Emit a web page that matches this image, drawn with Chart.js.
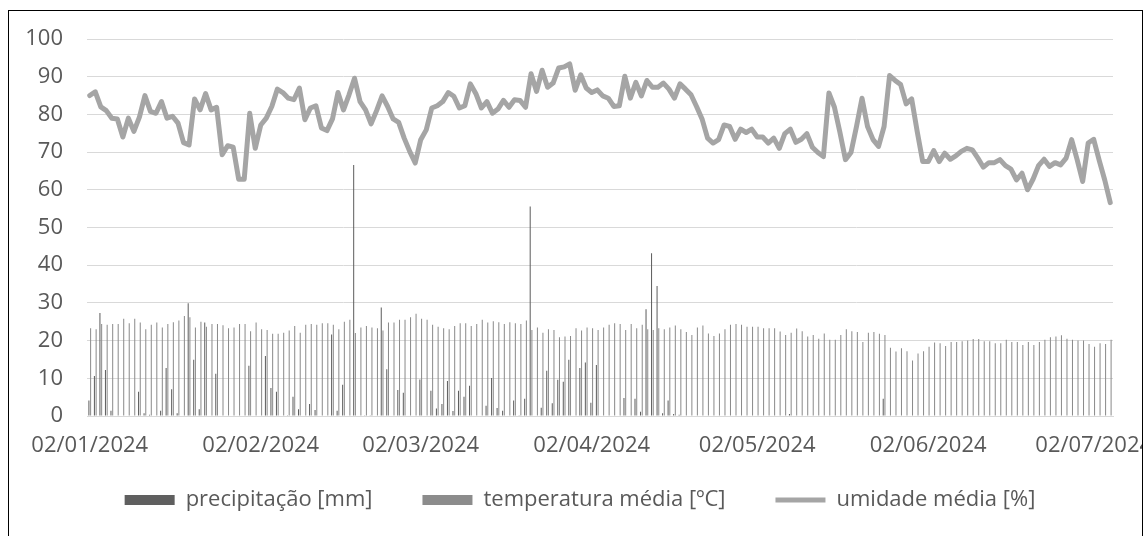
<!DOCTYPE html>
<html>
<head>
<meta charset="utf-8">
<script src="https://cdn.jsdelivr.net/npm/chart.js@4.4.1/dist/chart.umd.min.js"></script>
<style>
  html, body { margin: 0; padding: 0; background: #fff; }
  #wrap { width: 1146px; height: 536px; position: relative; }
</style>
</head>
<body>
<div id="wrap"><canvas id="grafico"></canvas></div>
<script>
// série diária a partir de 02/01/2024
const dataInicio = Date.UTC(2024, 0, 2);

// rótulos mostrados no eixo x (um por mês)
const rotulosMes = ['02/01/2024', '02/02/2024', '02/03/2024', '02/04/2024', '02/05/2024', '02/06/2024', '02/07/2024'];

const precipitacao = [
  4.1, 10.6, 27.3, 12.2, 1.4, 0, 0, 0, 0, 6.4,
  0.7, 0.3, 0, 1.4, 12.7, 7.1, 0.7, 0, 29.9, 14.9,
  1.8, 24.8, 0, 11.2, 0, 0, 0, 0, 0, 13.3,
  0, 0, 15.9, 7.4, 6.4, 0, 0.2, 5.1, 1.8, 0,
  3.2, 1.6, 0, 0, 21.6, 1.4, 8.3, 0, 66.6, 0,
  0.2, 0.2, 0, 28.8, 12.4, 0, 6.9, 6.2, 0, 0,
  9.7, 0, 6.7, 2, 3.2, 9.3, 1.3, 6.7, 5.1, 8,
  0, 0, 2.7, 10.1, 2.1, 1.4, 0, 4.1, 0.2, 4.6,
  55.6, 0.1, 2.2, 12, 3.4, 9.6, 9.1, 14.9, 0, 12.7,
  14.2, 3.5, 13.5, 0, 0, 0, 0, 4.8, 0, 4.6,
  1.1, 28.3, 43.2, 34.5, 0.7, 4.1, 0.5, 0.3, 0, 0,
  0, 0, 0, 0, 0, 0, 0, 0, 0, 0,
  0, 0, 0, 0, 0, 0, 0, 0.5, 0, 0,
  0, 0, 0, 0, 0, 0, 0, 0, 0, 0,
  0, 0, 0, 0, 4.6, 0, 0, 0, 0, 0,
  0, 0, 0, 0, 0, 0, 0, 0, 0, 0,
  0, 0, 0, 0, 0, 0, 0, 0, 0, 0,
  0, 0, 0, 0, 0, 0, 0, 0, 0, 0,
  0, 0, 0, 0, 0, 0
];

const temperatura = [
  23.3, 23, 24.4, 24.2, 24.4, 24.4, 25.8, 24.6, 25.8, 24.8,
  23, 24.2, 24.8, 23.5, 24.4, 24.9, 25.3, 26.5, 26.2, 23.5,
  25, 23.7, 24.4, 24.4, 24.1, 23.3, 23.5, 24.4, 24.4, 22.5,
  24.8, 23, 22.8, 21.8, 21.8, 22.1, 22.7, 23.9, 22.1, 24.2,
  24.4, 24.2, 24.6, 24.6, 24.2, 23, 25, 25.5, 22, 23.5,
  23.9, 23.5, 23.3, 22.7, 24.8, 24.8, 25.5, 25.5, 26.2, 27.1,
  25.8, 25.5, 24.2, 23.7, 23.3, 23, 23.9, 24.6, 24.6, 23.9,
  24.4, 25.5, 24.8, 25.1, 24.9, 24.4, 24.9, 24.6, 24.4, 25.3,
  22.8, 23.5, 22.1, 23, 22.8, 20.9, 21.1, 21.2, 23.3, 22.7,
  23.5, 23.3, 22.8, 23.5, 24.2, 24.6, 24.4, 22.8, 24.4, 23.3,
  24.2, 23, 22.8, 23.3, 23, 23.5, 24, 23, 22.3, 21.5,
  23.5, 24, 21.9, 21.2, 21.9, 23, 24.2, 24.4, 24.2, 23.7,
  23.7, 23.7, 23.3, 23.3, 23.3, 22.4, 21.5, 22.1, 23.2, 22.5,
  21.1, 21.5, 20.5, 21.9, 20.2, 20.2, 21.5, 23, 22.5, 22.3,
  19.6, 22.1, 22.3, 21.8, 21.5, 18.1, 17.1, 18, 17.2, 14.7,
  16.6, 17.2, 18.4, 19.5, 19.3, 18.6, 19.6, 19.6, 19.8, 20,
  20.4, 20.4, 19.8, 19.8, 19.3, 19.3, 20.2, 19.6, 19.6, 18.8,
  19.6, 18.8, 19.6, 20.2, 20.9, 21.1, 21.4, 20.5, 20.2, 20,
  20, 19.1, 18.4, 19.3, 19.1, 20.2
];

const umidade = [
  85, 86, 82, 81, 79, 78.8, 74, 79, 75.5, 79.3,
  85, 80.8, 80.3, 83.4, 79, 79.5, 77.7, 72.5, 71.9, 84.1,
  81.2, 85.5, 81.2, 81.9, 69.3, 71.7, 71.3, 62.8, 62.8, 80.3,
  71, 77.2, 79, 82.1, 86.7, 85.8, 84.3, 83.9, 87, 78.6,
  81.7, 82.3, 76.4, 75.7, 78.8, 85.8, 81.2, 85.2, 89.6, 83.4,
  81.2, 77.5, 81, 84.9, 82.1, 78.8, 77.9, 73.7, 70.2, 67.1,
  73.3, 75.9, 81.7, 82.3, 83.4, 85.8, 84.8, 81.7, 82.3, 88.1,
  85.5, 81.7, 83.4, 80.3, 81.4, 83.7, 81.9, 83.9, 83.7, 81.9,
  90.8, 86.1, 91.7, 87.2, 88.3, 92.3, 92.6, 93.4, 86.4, 90.5,
  87, 85.8, 86.5, 84.9, 84.3, 82.1, 82.3, 90.1, 84.3, 88.5,
  84.9, 89, 87.2, 87.2, 88.3, 86.7, 84.3, 88.1, 86.7, 85.2,
  82.1, 78.8, 73.7, 72.4, 73.3, 77.2, 76.8, 73.4, 76.1, 75.2,
  76.1, 74, 74, 72.4, 73.7, 71, 74.9, 76.1, 72.6, 73.4,
  74.9, 71.3, 69.9, 68.8, 85.7, 81.9, 75.2, 68, 69.9, 76.8,
  84.3, 76.8, 73.3, 71.5, 76.8, 90.3, 89, 87.9, 82.8, 84.1,
  75.5, 67.5, 67.5, 70.4, 67.5, 69.7, 68.1, 69, 70.2, 71,
  70.6, 68.4, 66, 67.2, 67.2, 68, 66.4, 65.5, 62.6, 64.4,
  60, 62.8, 66.4, 68.1, 66.2, 67.2, 66.6, 68.4, 73.3, 68,
  62.2, 72.4, 73.4, 67.8, 62.6, 56.6
];

const doisDig = n => String(n).padStart(2, '0');
const datas = umidade.map((_, i) => {
  const d = new Date(dataInicio + i * 86400000);
  return doisDig(d.getUTCDate()) + '/' + doisDig(d.getUTCMonth() + 1) + '/' + d.getUTCFullYear();
});

const corTexto = '#595959';
const fonte = { family: "'Open Sans', 'Noto Sans', sans-serif", size: 22 };

// legenda centrada na moldura, logo abaixo das datas; depois a moldura por cima
const moldura = {
  id: 'moldura',
  afterLayout(chart) {
    const lg = chart.legend;
    const alt = lg.bottom - lg.top;
    lg.top = 439;
    lg.bottom = 439 + alt;
    const dx = 580 - (lg.left + lg.right) / 2;
    lg.left += dx;
    lg.right += dx;
  },
  afterDraw(chart) {
    const ctx = chart.ctx;
    ctx.save();
    ctx.fillStyle = '#fff';
    ctx.fillRect(1143, 0, 3, chart.height);
    ctx.strokeStyle = '#000';
    ctx.lineWidth = 1;
    ctx.strokeRect(8.5, 10.5, 1134, 540);
    ctx.restore();
  }
};

new Chart(document.getElementById('grafico'), {
  type: 'bar',
  data: {
    labels: datas,
    datasets: [
      {
        label: 'precipitação [mm]',
        data: precipitacao,
        backgroundColor: '#5f5f5f',
        pointStyle: 'rect',
        order: 2,
        categoryPercentage: 0.62,
        barPercentage: 0.6
      },
      {
        label: 'temperatura média [ºC]',
        data: temperatura,
        backgroundColor: '#8c8c8c',
        pointStyle: 'rect',
        order: 3,
        categoryPercentage: 0.62,
        barPercentage: 0.6
      },
      {
        type: 'line',
        label: 'umidade média [%]',
        data: umidade,
        borderColor: '#a5a5a5',
        backgroundColor: '#a5a5a5',
        borderWidth: 5,
        borderJoinStyle: 'round',
        borderCapStyle: 'round',
        pointRadius: 0,
        pointStyle: 'line',
        tension: 0,
        order: 1
      }
    ]
  },
  options: {
    responsive: true,
    maintainAspectRatio: false,
    animation: false,
    layout: { padding: { left: 0, right: 33, top: 39, bottom: 0 } },
    scales: {
      x: {
        grid: { display: false },
        border: { display: true, color: '#d9d9d9', width: 1 },
        ticks: {
          autoSkip: false,
          maxRotation: 0,
          minRotation: 0,
          padding: 9,
          color: corTexto,
          font: fonte,
          callback: function(v) {
            const r = this.getLabelForValue(v);
            return rotulosMes.includes(r) ? r : '';
          }
        },
        afterFit: s => { s.height = 38; }
      },
      y: {
        min: 0,
        max: 100,
        ticks: { stepSize: 10, padding: 24, color: corTexto, font: fonte },
        grid: { color: '#d9d9d9', lineWidth: 1, drawTicks: false },
        border: { display: false },
        afterFit: s => { s.width = 87; }
      }
    },
    plugins: {
      legend: {
        position: 'bottom',
        labels: {
          usePointStyle: true,
          pointStyleWidth: 50,
          boxHeight: 10,
          padding: 50,
          color: corTexto,
          font: fonte,
          sort: (a, b) => a.datasetIndex - b.datasetIndex
        }
      },
      tooltip: { enabled: false }
    }
  },
  plugins: [moldura]
});
</script>
</body>
</html>
